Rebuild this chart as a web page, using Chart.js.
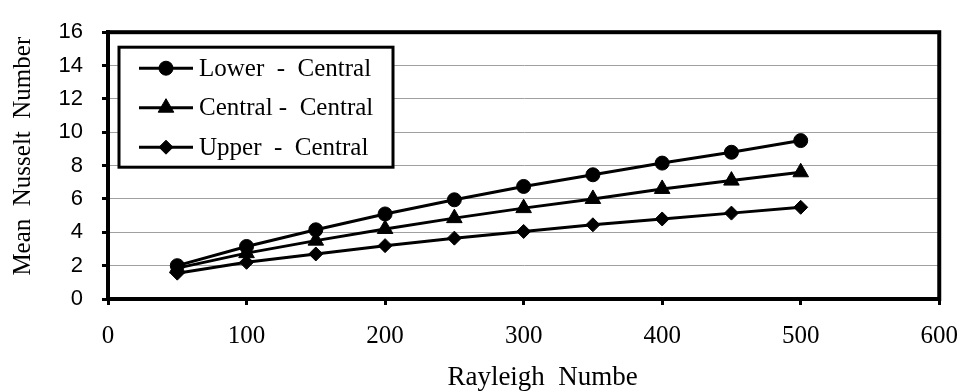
<!DOCTYPE html>
<html>
<head>
<meta charset="utf-8">
<script src="https://cdn.jsdelivr.net/npm/chart.js@4/dist/chart.umd.min.js"></script>
<style>
  html, body { margin: 0; padding: 0; background: #fff; }
  #wrap { width: 974px; height: 392px; position: relative; }
</style>
</head>
<body>
<div id="wrap"><canvas id="c" width="974" height="392"></canvas></div>
<script>
const rayleigh = [50, 100, 150, 200, 250, 300, 350, 400, 450, 500];
const lowerCentral = [2.0, 3.15, 4.15, 5.1, 5.95, 6.75, 7.45, 8.15, 8.8, 9.5];
const centralCentral = [1.85, 2.75, 3.5, 4.2, 4.85, 5.45, 6.0, 6.6, 7.1, 7.6];
const upperCentral = [1.55, 2.2, 2.7, 3.2, 3.65, 4.05, 4.45, 4.8, 5.15, 5.5];
const seriesNames = ['Lower  -  Central', 'Central -  Central', 'Upper  -  Central'];
const xTitle = 'Rayleigh  Numbe';
const yTitle = 'Mean  Nusselt  Number';

const serif = '"Liberation Serif", "Times New Roman", serif';
const sans = '"Liberation Sans", Arial, sans-serif';

function pts(ys) { return rayleigh.map((x, i) => ({ x: x, y: ys[i] })); }

const styles = [
  { pointStyle: 'circle', radius: 7 },
  { pointStyle: 'triangle', radius: 9 },
  { pointStyle: 'rectRot', radius: 7 }
];
const allSeries = [lowerCentral, centralCentral, upperCentral];

const datasets = allSeries.map((ys, i) => ({
  label: seriesNames[i],
  data: pts(ys),
  borderColor: '#000',
  backgroundColor: '#000',
  borderWidth: 3,
  pointStyle: styles[i].pointStyle,
  pointRadius: styles[i].radius,
  pointBorderWidth: 1,
  pointBackgroundColor: '#000',
  pointBorderColor: '#000',
  tension: 0,
  showLine: true
}));

const framePlugin = {
  id: 'frame',
  afterDatasetsDraw(chart) {
    const { ctx, chartArea: a } = chart;
    ctx.save();
    ctx.strokeStyle = '#000';
    ctx.lineWidth = 4;
    ctx.strokeRect(a.left, a.top, a.right - a.left, a.bottom - a.top);

    // legend box
    const lx = a.left + 11, ly = a.top + 15, lw = 274, lh = 120;
    ctx.fillStyle = '#fff';
    ctx.fillRect(lx, ly, lw, lh);
    ctx.lineWidth = 3;
    ctx.strokeRect(lx, ly, lw, lh);
    ctx.font = '25px ' + serif;
    ctx.textBaseline = 'middle';
    ctx.textAlign = 'left';
    chart.data.datasets.forEach((ds, i) => {
      const cy = ly + 21 + i * 39.5;
      ctx.strokeStyle = '#000';
      ctx.lineWidth = 3;
      ctx.beginPath();
      ctx.moveTo(lx + 20, cy);
      ctx.lineTo(lx + 74, cy);
      ctx.stroke();
      ctx.fillStyle = '#000';
      ctx.lineWidth = 1;
      Chart.helpers.drawPoint(ctx, { pointStyle: ds.pointStyle, radius: ds.pointRadius, rotation: 0, borderWidth: 1 }, lx + 47, cy);
      ctx.fillStyle = '#000';
      ctx.fillText(ds.label, lx + 80, cy + 1);
    });

    // axis titles
    ctx.fillStyle = '#000';
    ctx.font = '27px ' + serif;
    ctx.textAlign = 'center';
    ctx.textBaseline = 'alphabetic';
    ctx.fillText(xTitle, (a.left + a.right) / 2 + 19, a.bottom + 86);

    ctx.save();
    ctx.font = '25px ' + serif;
    ctx.translate(a.left - 78, a.top + 124);
    ctx.rotate(-Math.PI / 2);
    ctx.textAlign = 'center';
    ctx.textBaseline = 'alphabetic';
    ctx.fillText(yTitle, 0, 0);
    ctx.restore();
    ctx.restore();
  }
};

new Chart(document.getElementById('c'), {
  type: 'scatter',
  data: { datasets: datasets },
  options: {
    responsive: false,
    animation: false,
    devicePixelRatio: 1,
    layout: { padding: { top: 17, right: 24, left: 0, bottom: 0 } },
    plugins: { legend: { display: false }, tooltip: { enabled: false }, title: { display: false } },
    scales: {
      x: {
        type: 'linear',
        min: 0, max: 600,
        afterFit(s) { s.height = 93; },
        ticks: { stepSize: 100, color: '#000', padding: 16, font: { family: serif, size: 25 } },
        grid: { drawOnChartArea: false, drawTicks: true, tickLength: 6, tickColor: '#000', tickWidth: 3 },
        border: { display: true, color: '#000', width: 4 }
      },
      y: {
        type: 'linear',
        min: 0, max: 16,
        afterFit(s) { s.width = 108; },
        ticks: { stepSize: 2, color: '#000', padding: 19, font: { family: sans, size: 22 } },
        grid: { color: '#a0a0a0', lineWidth: 1, drawTicks: true, tickLength: 6, tickColor: '#000', tickWidth: 3 },
        border: { display: true, color: '#000', width: 4 }
      }
    }
  },
  plugins: [framePlugin]
});
</script>
</body>
</html>
